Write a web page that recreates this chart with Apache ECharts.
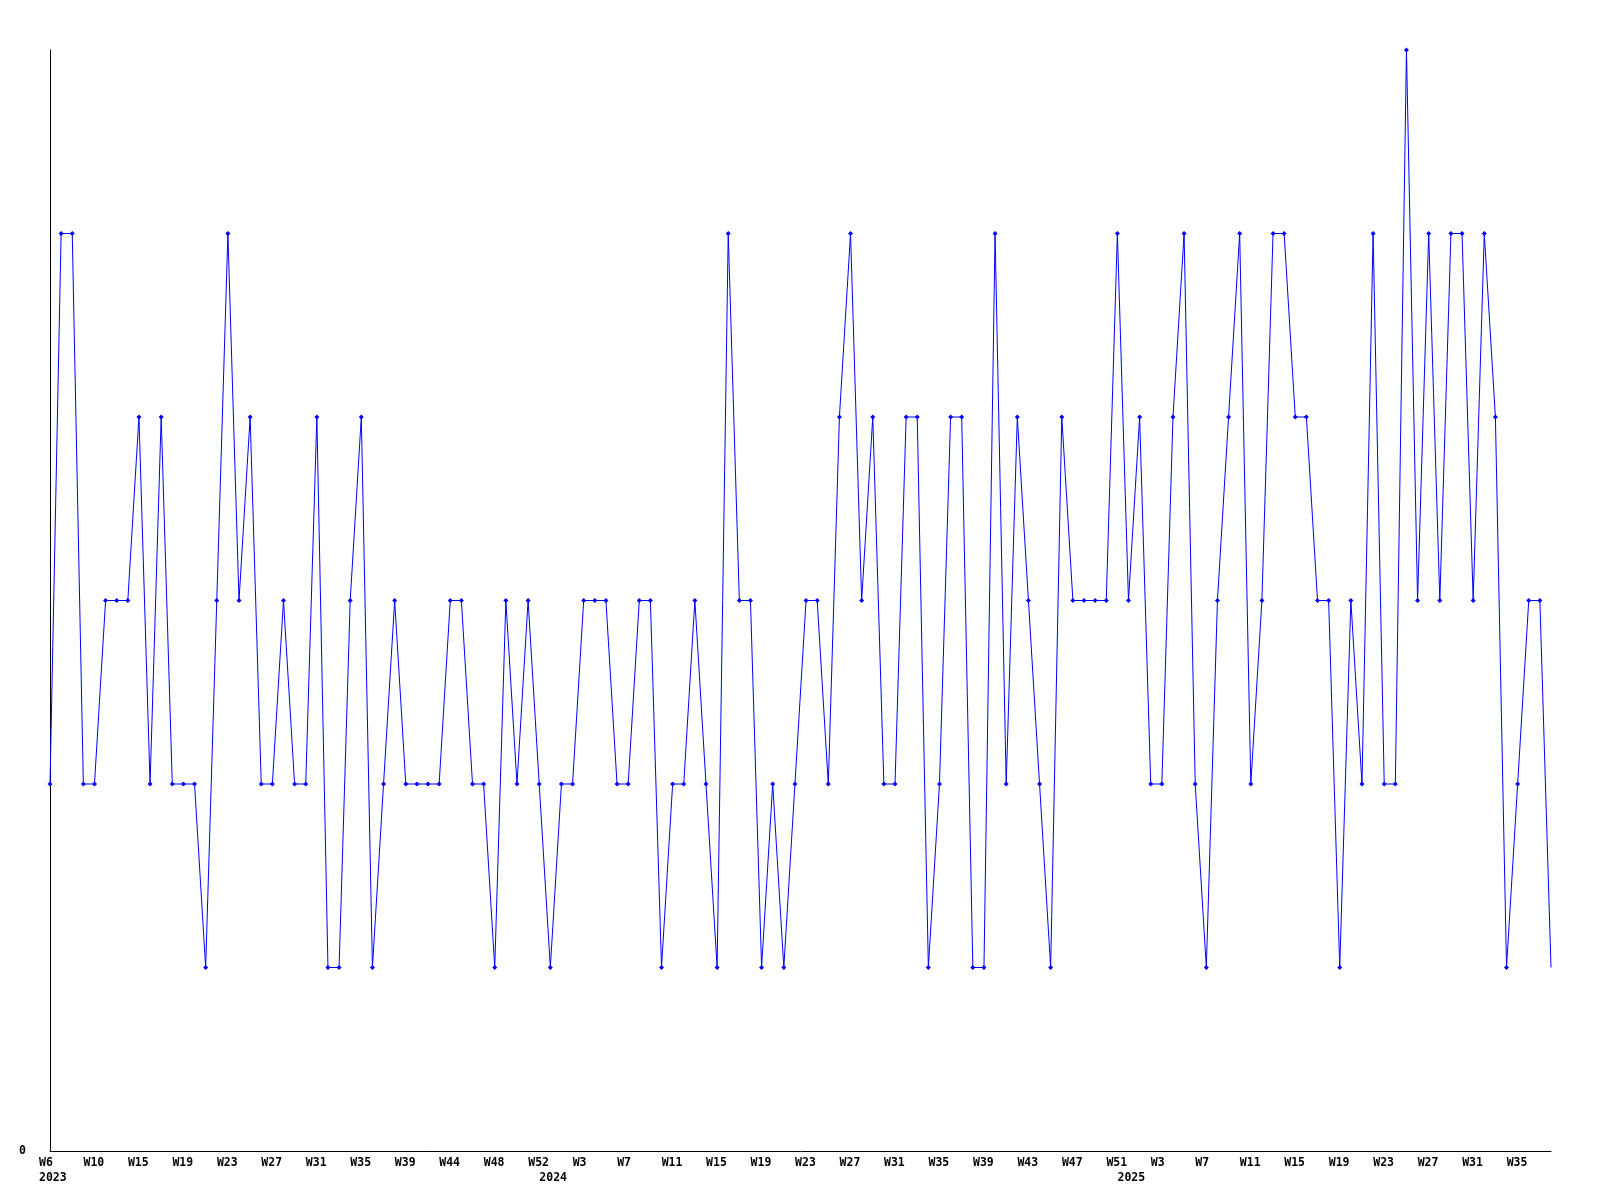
<!DOCTYPE html>
<html>
<head>
<meta charset="utf-8">
<style>
  html, body { margin: 0; padding: 0; background: #ffffff; }
  #chart { width: 1600px; height: 1200px; }
</style>
<script src="https://cdn.jsdelivr.net/npm/echarts@6/dist/echarts.min.js"></script>
</head>
<body>
<div id="chart"></div>
<script>
// Weekly values, 2023 W6 .. 2025 (one point per week)
const values = [
  2,5,5,2,2,3,3,3,4,2,
  4,2,2,2,1,3,5,3,4,2,
  2,3,2,2,4,1,1,3,4,1,
  2,3,2,2,2,2,3,3,2,2,
  1,3,2,3,2,1,2,2,3,3,
  3,2,2,3,3,1,2,2,3,2,
  1,5,3,3,1,2,1,2,3,3,
  2,4,5,3,4,2,2,4,4,1,
  2,4,4,1,1,5,2,4,3,2,
  1,4,3,3,3,3,5,3,4,2,
  2,4,5,2,1,3,4,5,2,3,
  5,5,4,4,3,3,1,3,2,5,
  2,2,6,3,5,3,5,5,3,5,
  4,1,2,3,3,1
];

// Week tick labels, shown on every 4th point
const weekTickLabels = [
  'W6','W10','W15','W19','W23','W27','W31','W35','W39','W44','W48','W52',
  'W3','W7','W11','W15','W19','W23','W27','W31','W35','W39','W43','W47','W51',
  'W3','W7','W11','W15','W19','W23','W27','W31','W35'
];
const weekTickStep = 4;

// Year labels and the point where each year starts
const yearLabels = ['2023', '2024', '2025'];
const yearStartIndex = [0, 45, 97];

const yMin = 0, yMax = 6;

const categories = values.map((v, i) => 'p' + i);

const labelFont = {
  fontFamily: 'DejaVu Sans Mono',
  fontWeight: 'bold',
  fontSize: 11.5,
  color: '#000000'
};

const chart = echarts.init(document.getElementById('chart'), null, { renderer: 'canvas' });

chart.setOption({
  animation: false,
  backgroundColor: '#ffffff',
  grid: { left: 50, right: 49, top: 50, bottom: 49, containLabel: false },
  xAxis: [
    {
      type: 'category',
      data: categories,
      boundaryGap: false,
      position: 'bottom',
      axisLine: { show: true, lineStyle: { color: '#000000', width: 1 } },
      axisTick: { show: false },
      splitLine: { show: false },
      axisLabel: {
        interval: weekTickStep - 1,
        margin: 6,
        formatter: (v, i) => {
          const lbl = weekTickLabels[Math.round(i / weekTickStep)];
          return lbl ? '{w|' + lbl + '}' : '';
        },
        rich: { w: Object.assign({ width: 22, align: 'left' }, labelFont) }
      }
    },
    {
      type: 'category',
      data: categories,
      boundaryGap: false,
      position: 'bottom',
      axisLine: { show: false },
      axisTick: { show: false },
      splitLine: { show: false },
      axisLabel: {
        interval: (i) => yearStartIndex.indexOf(i) !== -1,
        margin: 21,
        formatter: (v, i) => {
          const k = yearStartIndex.indexOf(i);
          return k !== -1 ? '{y|' + yearLabels[k] + '}' : '';
        },
        rich: { y: Object.assign({ width: 22, align: 'left' }, labelFont) }
      }
    }
  ],
  yAxis: {
    type: 'value',
    min: yMin,
    max: yMax,
    interval: yMax - yMin,
    axisLine: { show: true, lineStyle: { color: '#000000', width: 1 } },
    axisTick: { show: false },
    splitLine: { show: false },
    axisLabel: Object.assign({ margin: 24, showMaxLabel: false }, labelFont)
  },
  series: [{
    type: 'line',
    xAxisIndex: 0,
    data: values.map((v, i) => i === values.length - 1 ? { value: v, symbol: 'none' } : v),
    symbol: 'diamond',
    symbolSize: 5,
    showAllSymbol: true,
    lineStyle: { color: '#0000ff', width: 1 },
    itemStyle: { color: '#0000ff' },
    emphasis: { disabled: true }
  }]
});
</script>
</body>
</html>
